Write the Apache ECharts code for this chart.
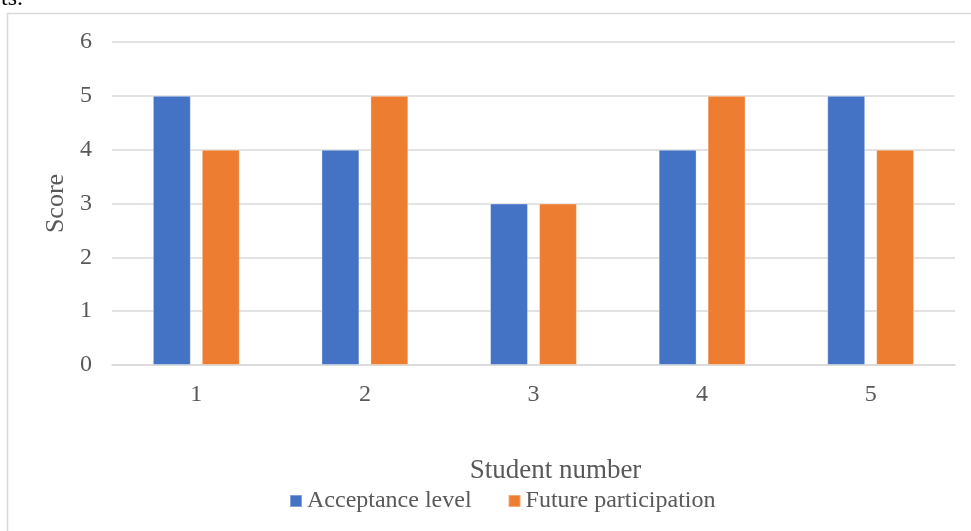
<!DOCTYPE html>
<html><head><meta charset="utf-8">
<script src="https://cdn.jsdelivr.net/npm/echarts@6/dist/echarts.min.js"></script>
<style>html,body{margin:0;padding:0;background:#fff}#c{width:971px;height:531px}</style>
</head><body><div id="c"></div>
<script>
const categories = ['1','2','3','4','5'];
const acceptance = [5,4,3,4,5];
const future = [4,5,3,5,4];
const yTicks = [0,1,2,3,4,5,6];

const chart = echarts.init(document.getElementById('c'));
const font = '"Liberation Serif","Times New Roman",serif';
chart.setOption({
  animation:false,
  textStyle:{fontFamily:font},
  graphic:[
    {type:'rect',shape:{x:7.5,y:13.5,width:1000,height:600},style:{fill:null,stroke:'#d9d9d9',lineWidth:1.5},silent:true},
    {type:'text',x:1,y:11,z:10,style:{text:'ts.',fontSize:24,fontFamily:font,fill:'#000',verticalAlign:'bottom',align:'left'}}
  ],
  grid:{left:112,right:16,top:42,bottom:166},
  legend:{top:484,left:284,itemWidth:12,itemHeight:12,itemGap:36,icon:'rect',
    textStyle:{fontFamily:font,fontSize:24,color:'#595959'},
    data:['Acceptance level','Future participation']},
  xAxis:{type:'category',data:categories,name:'Student number',nameLocation:'middle',nameGap:92,
    nameTextStyle:{fontFamily:font,fontSize:27,color:'#595959',padding:[0,0,0,44]},
    axisLine:{lineStyle:{color:'#d9d9d9',width:1.5}},axisTick:{show:false},
    axisLabel:{fontFamily:font,fontSize:24,color:'#595959',margin:18}},
  yAxis:{type:'value',min:yTicks[0],max:yTicks[yTicks.length-1],interval:1,name:'Score',nameLocation:'middle',nameGap:43,
    nameTextStyle:{fontFamily:font,fontSize:26,color:'#595959'},
    axisLine:{show:false},axisTick:{show:false},
    axisLabel:{fontFamily:font,fontSize:24,color:'#595959',margin:20},
    splitLine:{lineStyle:{color:'#d9d9d9',width:1.5}}},
  series:[
    {name:'Acceptance level',type:'bar',data:acceptance,barWidth:'22.5%',barGap:'29%',
      itemStyle:{color:'#4472C4',borderColor:'rgba(255,255,255,0.35)',borderWidth:1}},
    {name:'Future participation',type:'bar',data:future,barWidth:'22.5%',barGap:'29%',
      itemStyle:{color:'#ED7D31',borderColor:'rgba(255,255,255,0.35)',borderWidth:1}}
  ]
});
</script></body></html>
